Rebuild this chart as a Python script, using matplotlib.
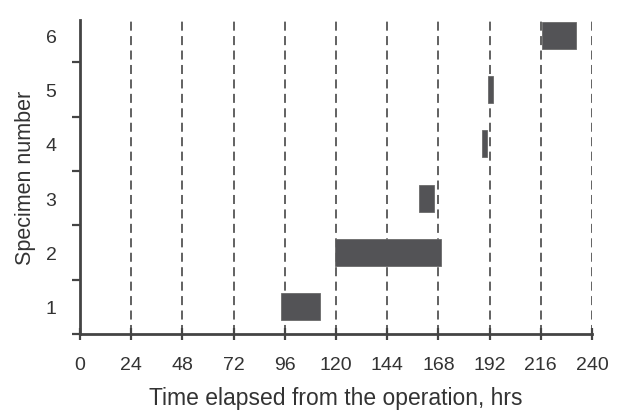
import matplotlib.pyplot as plt
import numpy as np

plt.rcParams['font.family'] = ['Liberation Sans', 'DejaVu Sans']

# specimen bars: start / end in hours
specimens = [1, 2, 3, 4, 5, 6]
starts = [94.4, 119.5, 158.7, 188.3, 191.2, 216.5]
ends = [112.7, 169.4, 166.0, 190.6, 193.6, 232.7]
xticks = [0, 24, 48, 72, 96, 120, 144, 168, 192, 216, 240]

fig = plt.figure(figsize=(6.19, 4.14), dpi=100)
ax = fig.add_axes([80 / 619, 1 - 335 / 414, 512 / 619, 314 / 414])

text_col = '#333333'
axis_col = '#444444'

for x in xticks[1:]:
    ax.axvline(x, color='#555555', lw=1.3, ls=(0, (5, 3)), zorder=1)

y = np.array(specimens) - 0.5
widths = np.array(ends) - np.array(starts)
ax.barh(y, widths, left=starts, height=0.5, color='#535356',
        edgecolor='#6a6a6a', lw=0.6, zorder=3)

ax.set_xlim(0, 240)
ax.set_ylim(0, 5.78)

ax.set_xticks(xticks)
ax.set_xticklabels([str(t) for t in xticks])
ax.tick_params(axis='x', direction='inout', length=9, width=1.6,
               color=axis_col, labelsize=14, labelcolor=text_col, pad=11)

ax.set_yticks(range(0, 6))
ax.set_yticklabels([])
ax.set_yticks(y, minor=True)
ax.set_yticklabels([str(s) for s in specimens], minor=True)
ax.tick_params(axis='y', which='major', direction='out', length=6,
               width=1.6, color=axis_col)
ax.tick_params(axis='y', which='minor', length=0, labelsize=14,
               labelcolor=text_col, pad=17)

for side in ['top', 'right']:
    ax.spines[side].set_visible(False)
for side in ['left', 'bottom']:
    ax.spines[side].set_color(axis_col)
    ax.spines[side].set_linewidth(2)

ax.set_xlabel('Time elapsed from the operation, hrs', fontsize=16.5,
              color=text_col, labelpad=10)
ax.set_ylabel('Specimen number', fontsize=15.5, color=text_col, labelpad=7)

fig.savefig('out.png', dpi=100)
